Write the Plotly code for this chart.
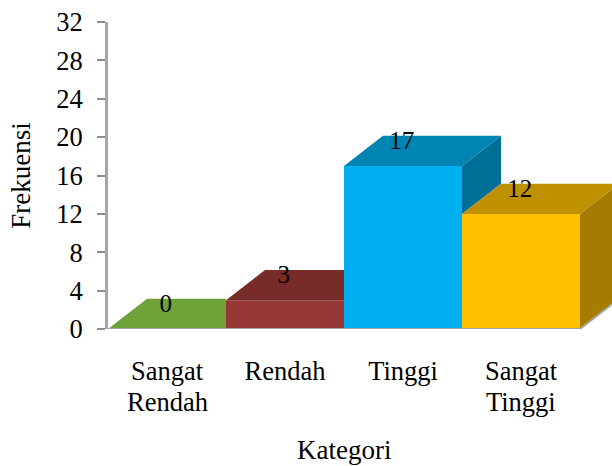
import plotly.graph_objects as go

categories = ["Sangat Rendah", "Rendah", "Tinggi", "Sangat Tinggi"]
values = [0, 3, 17, 12]
front_colors = ["#70A23A", "#953735", "#00B0F0", "#FFC000"]
top_colors = ["#70A23A", "#772C2A", "#0084B4", "#BF9000"]
side_colors = ["#5A8230", "#5F2322", "#006F98", "#A67C00"]
y_ticks = [0, 4, 8, 12, 16, 20, 24, 28, 32]

DEPTH_X = 39 / 118
DEPTH_Y = 3.15
LABEL_LIFT = 2.45
FONT = "Liberation Serif"
GRAY = "#A6A6A6"
TEXT_SIZE = 26.5
TITLE_SIZE = 27

xs = list(range(len(values)))
fig = go.Figure()

fig.add_trace(go.Bar(x=xs, y=values, width=1, marker=dict(color=front_colors, line=dict(width=0)),
                     showlegend=False, hoverinfo="skip"))

for i, v in enumerate(values):
    nxt = values[i + 1] if i + 1 < len(values) else 0
    left, right = i - 0.5, i + 0.5
    hidden = nxt > v
    back_right = right if hidden else right + DEPTH_X
    if not hidden:
        fig.add_trace(go.Scatter(
            x=[right, right + DEPTH_X, right + DEPTH_X, right, right],
            y=[nxt, nxt + DEPTH_Y, v + DEPTH_Y, v, nxt],
            fill="toself", fillcolor=side_colors[i], mode="lines", line=dict(width=0),
            showlegend=False, hoverinfo="skip"))
    fig.add_trace(go.Scatter(
        x=[left, left + DEPTH_X, back_right, right, left],
        y=[v, v + DEPTH_Y, v + DEPTH_Y, v, v],
        fill="toself", fillcolor=top_colors[i], mode="lines", line=dict(width=0),
        showlegend=False, hoverinfo="skip"))

# floor line along the bars and up the depth edge of the last one
floor_end = len(values) - 0.5
fig.add_trace(go.Scatter(x=[-0.5, floor_end, floor_end + DEPTH_X], y=[0, 0, DEPTH_Y], mode="lines",
                         line=dict(color=GRAY, width=2), cliponaxis=False, showlegend=False, hoverinfo="skip"))

fig.add_trace(go.Scatter(x=[x - 0.01 for x in xs], y=[v + LABEL_LIFT for v in values], mode="text",
                         text=[str(v) for v in values], textposition="middle center",
                         textfont=dict(family=FONT, size=25, color="#000000"),
                         showlegend=False, hoverinfo="skip"))

first_words = [c.split(" ")[0] for c in categories]
for x, c in zip(xs, categories):
    words = c.split(" ")
    if len(words) > 1:
        fig.add_annotation(x=x, y=0, xref="x", yref="y", yshift=-72.5, text=words[1], showarrow=False,
                           font=dict(family=FONT, size=TEXT_SIZE, color="#000000"))

# x axis title, centred under the bars' front faces rather than the whole plot area
fig.add_annotation(x=(len(values) - 1) / 2, y=0, xref="x", yref="y", yshift=-121, text="Kategori", showarrow=False,
                   font=dict(family=FONT, size=TITLE_SIZE, color="#000000"))

fig.update_layout(
    width=612, height=466, margin=dict(l=108, r=0, t=22, b=136.5, autoexpand=False),
    plot_bgcolor="#FFFFFF", paper_bgcolor="#FFFFFF",
    font=dict(family=FONT, size=TEXT_SIZE, color="#000000"),
    xaxis=dict(range=[-0.5, 504 / 118 - 0.5], tickmode="array", tickvals=xs, ticktext=first_words,
               showgrid=False, zeroline=False, showline=False, ticks="",
               ticklabelstandoff=23, tickfont=dict(size=TEXT_SIZE), tickangle=0),
    yaxis=dict(range=[0, 32], tickmode="array", tickvals=y_ticks, showgrid=False, zeroline=False,
               showline=True, linecolor=GRAY, linewidth=3, ticks="outside", ticklen=8, tickcolor="#8C8C8C", tickwidth=2,
               ticklabelstandoff=9,
               title=dict(text="Frekuensi", standoff=18, font=dict(size=TITLE_SIZE)), tickfont=dict(size=TEXT_SIZE)),
)
fig.write_html("out.html", config=dict(displayModeBar=False), post_script="document.body.style.margin='0';")
